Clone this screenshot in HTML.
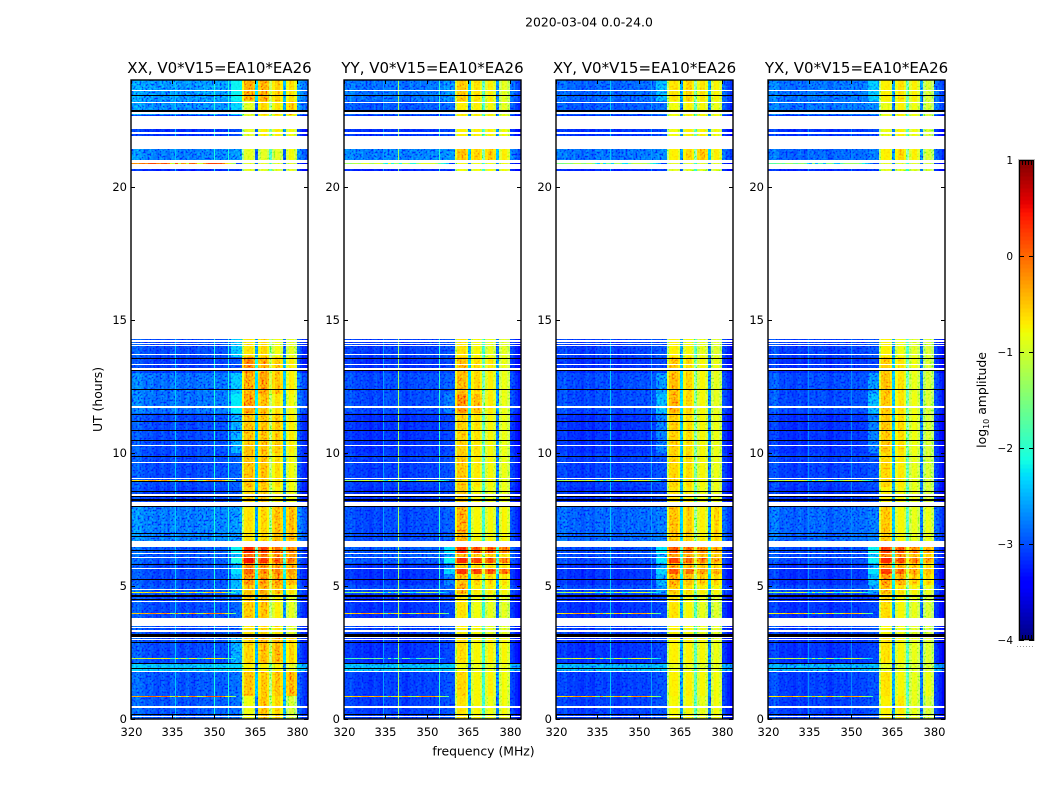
<!DOCTYPE html>
<html lang="en">
<head>
<meta charset="utf-8">
<title>2020-03-04 amplitude waterfall</title>
<style>
html,body{margin:0;padding:0;background:#fff;}
svg{display:block;}
text{font-family:"DejaVu Sans","Liberation Sans",sans-serif;fill:#000;}
.noise{mix-blend-mode:overlay;}
</style>
</head>
<body>
<svg id="figure" xmlns="http://www.w3.org/2000/svg" width="1050" height="800" viewBox="0 0 1050 800">
<defs>
<filter id="speckle" x="0" y="0" width="100%" height="100%">
<feTurbulence type="fractalNoise" baseFrequency="0.5" numOctaves="1" seed="4"/>
<feColorMatrix type="matrix" values="2.8 0 0 0 -0.9 2.8 0 0 0 -0.9 2.8 0 0 0 -0.9 0 0 0 0 1"/>
</filter>
</defs>
<text x="589" y="26.5" font-size="12.4" text-anchor="middle">2020-03-04 0.0-24.0</text>
<text x="0" y="0" font-size="12.4" text-anchor="middle" transform="translate(102,399.5) rotate(-90)">UT (hours)</text>
<text x="483.5" y="755.5" font-size="12.4" text-anchor="middle">frequency (MHz)</text>
<text x="0" y="0" font-size="12.4" text-anchor="middle" transform="translate(986,400) rotate(-90)">log<tspan font-size="8" dy="3">10</tspan><tspan dy="-3"> amplitude</tspan></text>
<g id="panels"></g>
<g id="colorbar"></g>
</svg>
<script>
// ---------- chart data ----------
const panelTitles = ["XX, V0*V15=EA10*EA26","YY, V0*V15=EA10*EA26","XY, V0*V15=EA10*EA26","YX, V0*V15=EA10*EA26"];
const freqTicks = [320,335,350,365,380];
const hourTicks = [0,5,10,15,20];
const colorTicks = [-4,-3,-2,-1,0,1];

const bandStart = [0,.85,1.75,2.05,3.1,3.8,4.7,5.05,5.45,5.65,5.85,6.05,6.25,6.5,8,8.7,10,11.5,12.2,13,13.6,20.6,21,21.5,22.7,23.2];
const bandEnd   = [.85,1.75,2.05,3.1,3.8,4.7,5.05,5.45,5.65,5.85,6.05,6.25,6.5,8,8.7,10,11.5,12.2,13,13.6,14.3,21,21.5,22.7,23.2,24];

// background level per band
const xxBg = [-3.05,-3.05,-2.55,-3.1,-3.1,-3.1,-3.05,-3.1,-3.1,-3.1,-3.05,-3.05,-3.05,-2.9,-3.15,-3.1,-3.1,-2.95,-2.95,-3.15,-3.1,-3.25,-2.9,-3.2,-2.85,-2.8];
const yyBg = [-3.15,-3.15,-2.6,-3.2,-3.15,-3.2,-3.1,-3.2,-3.2,-3.2,-3.05,-3.05,-3.05,-3.1,-3.2,-3.15,-3.2,-3.1,-3.1,-3.2,-3.15,-3.25,-2.9,-3.2,-3.05,-2.95];
const xyBg = [-3.15,-3.15,-2.65,-3.2,-3.15,-3.2,-3.1,-3.2,-3.2,-3.2,-3.1,-3.1,-3.1,-3,-3.2,-3.15,-3.2,-3.1,-3.1,-3.2,-3.15,-3.25,-2.95,-3.2,-3.05,-3];
const yxBg = [-3.15,-3.15,-2.7,-3.2,-3.15,-3.2,-3.1,-3.2,-3.2,-3.2,-3.1,-3.1,-3.1,-3,-3.2,-3.15,-3.2,-3.1,-3.1,-3.2,-3.15,-3.25,-3,-3.2,-2.95,-2.95];

// shoulder level 356-360 MHz per band (-9 = none)
const xxShoulder = [-9,-9,-9,-2.7,-9,-9,-2.6,-2.6,-2.3,-2.7,-2.1,-2.6,-2.2,-9,-9,-9,-2.7,-2.25,-2.5,-9,-2.5,-9,-9,-9,-2.4,-2.2];
const yyShoulder = [-9,-9,-9,-9,-9,-9,-9,-2.9,-2.4,-2.9,-2.2,-2.8,-2.3,-9,-9,-9,-9,-2.9,-9,-9,-9,-9,-9,-9,-9,-2.8];
const xyShoulder = [-9,-9,-9,-9,-9,-9,-2.8,-2.7,-2.4,-2.8,-2.3,-2.7,-2.3,-9,-9,-9,-2.9,-2.6,-2.8,-9,-9,-9,-9,-9,-9,-2.6];
const yxShoulder = [-9,-9,-9,-9,-9,-9,-2.8,-2.6,-2.3,-2.7,-2.2,-2.6,-2.2,-9,-9,-9,-2.9,-2.6,-2.8,-9,-9,-9,-9,-9,-9,-2.5];

// strong band levels: one [a,b,c,d] per band for the four sub-bands
const xxRfi = [[-.8,-.35,-.5,-1],[-.35,-.4,-.35,-.25],[-.7,-.7,-.7,-.9],[-.5,-.3,-.25,-.5],[-.6,-.5,-.6,-.9],[-.4,-.35,-.7,-.9],[-.35,-.2,-.3,-.6],[-.05,-.1,-.1,-.25],[.15,0,.05,-.1],[0,-.1,-.1,-.2],[.5,.35,.2,.05],[.1,.05,0,-.1],[.4,.3,.15,0],[-.6,-.5,-.3,-.3],[-.5,-.4,-.7,-.8],[-.35,-.35,-.55,-.8],[-.35,-.35,-.4,-.7],[-.1,-.3,-.6,-.8],[-.2,-.1,-.35,-.7],[0,-.2,-.4,-.7],[-.6,-.5,-.8,-.9],[-.9,-.9,-.9,-.9],[-.9,-.9,-.9,-.8],[-.9,-.7,-.7,-.8],[-.9,-.5,-.6,-.45],[-.2,-.2,-.45,-.6]];
const yyRfi = [[-.6,-.75,-.8,-.8],[-.5,-.75,-.7,-.8],[-.8,-.85,-.85,-.85],[-.55,-.75,-.7,-.75],[-.7,-.75,-.85,-.9],[-.6,-.8,-.85,-.9],[-.2,-.65,-.65,-.75],[-.3,-.5,-.5,-.6],[.35,.3,.25,.1],[-.4,-.5,-.6,-.6],[.4,.3,.25,.05],[-.3,-.4,-.4,-.6],[.35,.25,.2,.05],[-.2,-.75,-.75,-.75],[-.4,-.75,-.8,-.85],[-.4,-.65,-.75,-.85],[-.45,-.6,-.75,-.85],[-.05,-.3,-.65,-.85],[-.3,-.5,-.7,-.85],[-.3,-.55,-.65,-.85],[-.6,-.75,-.85,-.9],[-.8,-.8,-.8,-.8],[-.35,-.45,-.4,-.7],[-.7,-.7,-.7,-.8],[-.7,-.7,-.75,-.9],[-.4,-.6,-.7,-.9]];
const xyRfi = [[-.75,-.75,-.85,-.8],[-.7,-.7,-.75,-.8],[-.85,-.85,-.9,-.9],[-.7,-.7,-.75,-.85],[-.7,-.75,-.85,-.9],[-.6,-.75,-.85,-.95],[-.4,-.55,-.65,-.75],[-.2,-.3,-.4,-.5],[.2,.1,-.05,-.2],[-.2,-.3,-.4,-.5],[.3,.15,.05,-.15],[-.1,-.2,-.3,-.4],[.2,.1,0,-.2],[-.35,-.45,-.7,-.5],[-.6,-.65,-.8,-.85],[-.5,-.55,-.75,-.85],[-.45,-.55,-.75,-.85],[-.25,-.5,-.75,-.9],[-.3,-.5,-.75,-.9],[-.4,-.55,-.75,-.85],[-.7,-.75,-.85,-.95],[-.9,-.9,-.9,-.9],[-.7,-.5,-.35,-.7],[-.8,-.7,-.7,-.8],[-.8,-.7,-.75,-.85],[-.6,-.5,-.6,-.75]];
const yxRfi = [[-.7,-.65,-.85,-1],[-.6,-.75,-.85,-.85],[-.9,-.9,-.95,-1],[-.6,-.75,-.85,-.95],[-.75,-.8,-.9,-1],[-.55,-.75,-.85,-1],[-.3,-.55,-.7,-.85],[-.1,-.2,-.4,-.5],[.3,.15,-.1,-.3],[-.1,-.2,-.35,-.55],[.4,.25,.05,-.15],[0,-.1,-.3,-.45],[.3,.2,0,-.2],[-.4,-.75,-.85,-.85],[-.7,-.75,-.85,-1],[-.5,-.65,-.85,-1],[-.4,-.55,-.8,-1],[-.4,-.6,-.8,-1],[-.35,-.6,-.85,-1],[-.4,-.6,-.8,-1],[-.7,-.8,-.9,-1],[-.9,-.9,-.9,-1],[-.7,-.5,-.7,-1],[-.85,-.7,-.8,-1],[-.85,-.7,-.8,-1],[-.7,-.6,-.7,-1]];

// sub-band of each 1 MHz channel from 320 MHz (-1 = background)
const channelGroup = [-1,-1,-1,-1,-1,-1,-1,-1,-1,-1,-1,-1,-1,-1,-1,-1,-1,-1,-1,-1,-1,-1,-1,-1,-1,-1,-1,-1,-1,-1,-1,-1,-1,-1,-1,-1,-1,-1,-1,-1,0,0,0,0,0,0,1,1,1,1,1,2,2,2,2,2,3,3,3,3,-1,-1,-1,-1];

// per-channel offset relative to the band level
const xxChannel = [.1,.1,.15,.1,.05,0,.05,.05,0,-.05,0,.05,0,-.05,.05,.05,.05,0,-.05,0,.05,0,-.05,0,.05,0,.05,.05,0,.05,.05,.05,0,.05,.05,.05,.1,.1,.1,.15,-.6,-.05,0,0,-.25,-2.1,-.25,0,0,-.25,-1,-.25,0,0,-.25,-2.1,-.25,.05,0,-.25,.1,0,-.1,-.15];
const yyChannel = [.05,.05,.1,.05,0,0,.05,0,0,-.05,0,.05,0,-.05,.05,.05,.05,0,.05,.05,.05,0,-.05,0,.05,0,.05,.05,0,.05,.05,.05,0,.05,.05,.05,.1,.1,.1,.1,-.6,-.05,0,0,-.25,-2.1,-.25,0,0,-.25,-1.2,-.25,0,0,-.25,-2.1,-.25,.05,0,-.25,.05,0,-.1,-.2];
const xyChannel = [.05,.05,.05,.1,0,0,.05,0,0,-.05,0,.05,0,-.05,.05,.05,.05,0,.05,.05,.05,0,-.05,0,.05,0,.05,.05,0,.05,.05,.05,0,.05,.05,.05,.1,.1,.1,.1,-.6,-.05,0,0,-.25,-2.05,-.25,0,0,-.25,-1.1,-.25,0,0,-.25,-2.05,-.25,.05,0,-.25,.05,0,-.1,-.2];
const yxChannel = [.05,.1,.15,.1,0,0,.05,0,0,-.05,0,.05,0,-.05,.05,.05,.05,0,.05,.05,.05,0,-.05,0,.05,0,.05,.05,0,.05,.05,.05,0,.05,.05,.05,.1,.1,.1,.1,-.6,-.05,0,0,-.25,-2.05,-.25,0,0,-.25,-1.1,-.25,0,0,-.25,-2.05,-.25,.05,0,-.25,.05,0,-.1,-.2];

// narrow persistent interference: frequency (MHz) and level per panel
const xxLineFreqs = [336,350,355];
const xxLineLevels = [-2.4,-2.1,-2.1];
const yyLineFreqs = [334,339.5,354.5];
const yyLineLevels = [-2.6,-1.3,-2];
const xyLineFreqs = [339.5,354.5];
const xyLineLevels = [-2.4,-2.6];
const yxLineFreqs = [334.5,350];
const yxLineLevels = [-2.7,-2.7];

// narrow-band hot rows
const hotHours = [.86,2.28,4,4.78,8.97,20.87];
const xxHot = [-.45,-1.2,-.6,-.9,-.7,-.3];
const yyHot = [-.7,-2,-.7,-1.6,-1.5,-1.4];
const xyHot = [-.7,-1.4,-.8,-1.4,-1.4,-1.6];
const yxHot = [-.8,-1.5,-.9,-1.5,-1.4,-1.8];
const hotPattern = [.1,.1,0,.2,.3,.1,.4,.5,.5,.2,.1,.4,.5,.2,-.5,-.8,.4,-.7,.1,0,-.7,.3,.4,.1,-.6,-.7,0,.3,.5,.5,.5,.4,.5,.2,-.3,-.6,-.8,-1];

// flagged time ranges (hours)
const whiteFlags = [[.06,.1],[.42,.47],[1.76,1.82],[2.97,3.02],[3.05,3.1],[3.28,3.33],[3.41,3.45],[3.5,3.55],[3.57,3.8],[4.38,4.43],[4.84,4.88],[5.64,5.69],[6.05,6.1],[6.2,6.25],[6.47,6.67],[8,8.15],[8.39,8.44],[9.02,9.07],[9.6,9.65],[10.24,10.29],[11.68,11.76],[13.12,13.17],[13.28,13.33],[13.67,13.72],[14,14.05],[14.09,14.14],[14.17,14.22],[14.27,20.59],[20.66,20.83],[20.89,20.99],[21.4,21.89],[21.97,22.05],[22.15,22.65],[22.74,22.79],[23.14,23.19],[23.57,23.62]];
const blackFlags = [[.14,.18],[1.88,1.92],[2.07,2.11],[2.86,2.9],[3.09,3.19],[4.47,4.51],[4.6,4.64],[5.23,5.27],[5.79,5.83],[6.3,6.34],[6.83,6.87],[6.95,6.99],[7.97,8],[8.2,8.25],[8.37,8.39],[8.52,8.56],[8.89,8.93],[9.83,9.87],[10.45,10.49],[10.83,10.87],[11.14,11.18],[11.42,11.46],[12.36,12.4],[13.06,13.1],[13.51,13.55],[22.79,22.86],[23.39,23.43]];

// ---------- rendering ----------
const NS = "http://www.w3.org/2000/svg";
const panelLefts = [131,344,556,768];
const panelWidth = 177, plotTop = 80, plotBottom = 719;
const panelBgs = [xxBg,yyBg,xyBg,yxBg];
const panelShoulders = [xxShoulder,yyShoulder,xyShoulder,yxShoulder];
const panelRfis = [xxRfi,yyRfi,xyRfi,yxRfi];
const panelChannels = [xxChannel,yyChannel,xyChannel,yxChannel];
const panelHots = [xxHot,yyHot,xyHot,yxHot];
const panelLineFreqs = [xxLineFreqs,yyLineFreqs,xyLineFreqs,yxLineFreqs];
const panelLineLevels = [xxLineLevels,yyLineLevels,xyLineLevels,yxLineLevels];
const panelKeys = ["xx","yy","xy","yx"];

function axisX(left, f){ return left + (f - 320) / 64 * panelWidth; }
function axisY(h){ return plotBottom - h / 24 * (plotBottom - plotTop); }

function clampUnit(v){ return Math.max(0, Math.min(1, v)); }
function jet(v){
  const t = clampUnit((v + 4) / 5);
  const r = t < .35 ? 0 : t < .66 ? (t - .35) / .31 : t < .89 ? 1 : 1 - (t - .89) / .11 * .5;
  const g = t < .125 ? 0 : t < .375 ? (t - .125) / .25 : t < .64 ? 1 : t < .91 ? 1 - (t - .64) / .27 : 0;
  const b = t < .11 ? .5 + t / .11 * .5 : t < .34 ? 1 : t < .65 ? 1 - (t - .34) / .31 : 0;
  return "rgb(" + Math.round(clampUnit(r) * 255) + "," + Math.round(clampUnit(g) * 255) + "," + Math.round(clampUnit(b) * 255) + ")";
}
function make(tag, attrs, parent){
  const el = document.createElementNS(NS, tag);
  for (const k in attrs) el.setAttribute(k, attrs[k]);
  parent.appendChild(el);
  return el;
}

const panelsRoot = document.getElementById("panels");
panelTitles.forEach(function(title, p){
  const left = panelLefts[p], key = panelKeys[p];
  const g = make("g", {}, panelsRoot);
  
  
  const cells = make("g", {"shape-rendering":"crispEdges"}, g);
  
  

  const x0 = Math.round(axisX(left, 320));
  bandStart.forEach(function(start, b){
    const yTop = Math.round(axisY(bandEnd[b]));
    const yBot = Math.round(axisY(start));
    channelGroup.forEach(function(group, c){
      const off = panelChannels[p][c];
      let v;
      if (group >= 0) {
        v = panelRfis[p][b][group] + off;
      } else {
        v = panelBgs[p][b] + off;
        if (c >= 36 && c < 40) v = Math.max(v, panelShoulders[p][b]);
      }
      const xa = Math.round(axisX(left, 320 + c));
      const xb = Math.round(axisX(left, 321 + c));
      const cell = make("rect", {x:xa, y:yTop, width:xb - xa, height:yBot - yTop, fill:jet(v)}, cells);
      
      
    });
  });

  const noise = make("rect", {x:x0, y:plotTop, width:panelWidth, height:plotBottom - plotTop, filter:"url(#speckle)", "class":"noise", opacity:"0.6"}, g);
  
  

  const overlay = make("g", {"shape-rendering":"crispEdges"}, g);
  
  

  panelLineFreqs[p].forEach(function(f, i){
    const line = make("rect", {x:Math.round(axisX(left, f)), y:plotTop, width:1, height:plotBottom - plotTop, fill:jet(panelLineLevels[p][i])}, overlay);
    
    
  });
  hotHours.forEach(function(h, i){
    const y = Math.round(axisY(h));
    hotPattern.forEach(function(d, c){
      const xa = Math.round(axisX(left, 320 + c));
      const xb = Math.round(axisX(left, 321 + c));
      const hot = make("rect", {x:xa, y:y, width:xb - xa, height:1, fill:jet(panelHots[p][i] + d)}, overlay);
      
      
    });
  });
  whiteFlags.forEach(function(f){
    const yT = Math.round(axisY(f[1])), yB = Math.round(axisY(f[0]));
    const flag = make("rect", {x:x0, y:yT, width:panelWidth, height:Math.max(1, yB - yT), fill:"#fff"}, overlay);
    
    
  });
  blackFlags.forEach(function(f){
    const yT = Math.round(axisY(f[1])), yB = Math.round(axisY(f[0]));
    const flag = make("rect", {x:x0, y:yT, width:panelWidth, height:Math.max(1, yB - yT), fill:"#000"}, overlay);
    
    
  });

  const frame = make("rect", {x:x0, y:plotTop, width:panelWidth, height:plotBottom - plotTop, fill:"none", stroke:"#000", "stroke-width":"1.4"}, g);
  
  

  const title1 = make("text", {x:x0 + 88.5, y:73, "font-size":"15", "text-anchor":"middle"}, g);
  
  
  title1.textContent = title;

  freqTicks.forEach(function(f){
    const x = Math.round(axisX(left, f)) + .5;
    const t1 = make("path", {d:"M" + x + " " + plotBottom + "v-4M" + x + " " + plotTop + "v4", stroke:"#000", "stroke-width":"1", fill:"none"}, g);
    
    
    const lab = make("text", {x:x, y:plotBottom + 17, "font-size":"11.5", "text-anchor":"middle"}, g);
    
    
    lab.textContent = f;
  });
  hourTicks.forEach(function(h){
    const y = Math.round(axisY(h)) + .5;
    const t2 = make("path", {d:"M" + x0 + " " + y + "h4M" + (x0 + panelWidth) + " " + y + "h-4", stroke:"#000", "stroke-width":"1", fill:"none"}, g);
    
    
    const lab = make("text", {x:x0 - 4, y:y + 3.5, "font-size":"11.5", "text-anchor":"end"}, g);
    
    
    lab.textContent = h;
  });
});

// colorbar
const barRoot = document.getElementById("colorbar");
const barLeft = 1019, barWidth = 15, barTop = 160, barBottom = 640;
function barY(v){ return barBottom - (v + 4) / 5 * (barBottom - barTop); }
const barSteps = 120;
for (let i = 0; i < barSteps; i++) {
  const v0 = -4 + 5 * i / barSteps, v1 = -4 + 5 * (i + 1) / barSteps;
  const seg = make("rect", {x:barLeft, y:barY(v1), width:barWidth, height:barY(v0) - barY(v1) + .5, fill:jet((v0 + v1) / 2), "shape-rendering":"crispEdges"}, barRoot);
  
  
}
const barFrame = make("rect", {x:barLeft + .5, y:barTop + .5, width:barWidth - 1, height:barBottom - barTop - 1, fill:"none", stroke:"#000", "stroke-width":"1.2"}, barRoot);


const barOuter = make("rect", {x:barLeft - .5, y:barTop - .5, width:barWidth + 1, height:barBottom - barTop + 1, fill:"none", stroke:"#bbb", "stroke-width":"1"}, barRoot);


colorTicks.forEach(function(v){
  const y = Math.round(barY(v));
  const tick = make("path", {d:"M" + barLeft + " " + (y + .5) + "h5M" + (barLeft + barWidth) + " " + (y + .5) + "h-5", stroke:"#000", "stroke-width":"1", fill:"none"}, barRoot);
  
  
  const lab = make("text", {x:barLeft - 6, y:y + 4, "font-size":"10.5", "text-anchor":"end"}, barRoot);
  
  
  lab.textContent = v < 0 ? "\u2212" + Math.abs(v) : String(v);
});
[3,6,9,12].forEach(function(dx){
  const minor = make("path", {d:"M" + (barLeft + dx + .5) + " " + barTop + "v5M" + (barLeft + dx + .5) + " " + barBottom + "v-5", stroke:"#000", "stroke-width":"1", fill:"none"}, barRoot);
  
  
});
const dots = make("path", {d:"M1017 646.5H1035", stroke:"#999", "stroke-width":"1", "stroke-dasharray":"1 2", fill:"none"}, barRoot);


</script>
</body>
</html>
